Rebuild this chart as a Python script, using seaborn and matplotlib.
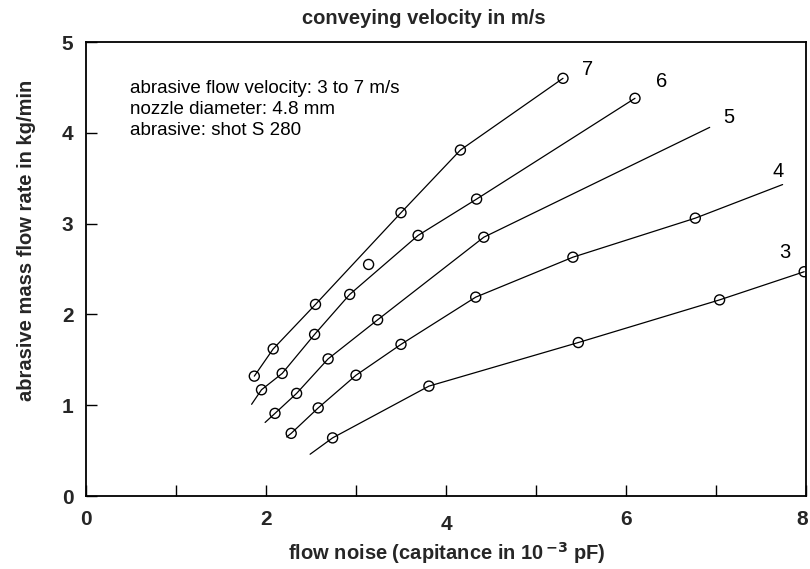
import numpy as np
import pandas as pd
import matplotlib
matplotlib.use("Agg")
import matplotlib.pyplot as plt
from matplotlib.transforms import ScaledTranslation
import seaborn as sns

# Conveying velocity of each curve (m/s)
velocities = [7, 6, 5, 4, 3]

# Fitted curve vertices; measured points are flagged with 1
x_v7 = [1.87, 2.08, 2.55, 3.50, 4.16, 5.30]
y_v7 = [1.32, 1.62, 2.11, 3.12, 3.81, 4.60]
m_v7 = [1, 1, 1, 1, 1, 1]

x_v6 = [1.84, 1.95, 2.18, 2.54, 2.93, 3.69, 4.34, 6.10]
y_v6 = [1.01, 1.17, 1.35, 1.78, 2.22, 2.87, 3.27, 4.38]
m_v6 = [0, 1, 1, 1, 1, 1, 1, 1]

x_v5 = [1.99, 2.10, 2.34, 2.69, 3.24, 4.42, 6.93]
y_v5 = [0.81, 0.91, 1.13, 1.51, 1.94, 2.85, 4.06]
m_v5 = [0, 1, 1, 1, 1, 1, 0]

x_v4 = [2.23, 2.28, 2.58, 3.00, 3.50, 4.33, 5.41, 6.77, 7.74]
y_v4 = [0.65, 0.69, 0.97, 1.33, 1.67, 2.19, 2.63, 3.06, 3.43]
m_v4 = [0, 1, 1, 1, 1, 1, 1, 1, 0]

x_v3 = [2.49, 2.74, 3.81, 5.47, 7.04, 7.98]
y_v3 = [0.46, 0.64, 1.21, 1.69, 2.16, 2.47]
m_v3 = [0, 1, 1, 1, 1, 1]

# Single measurement not lying on a curve
x_single = [3.14]
y_single = [2.55]

# Curve label positions
label_x = [5.57, 6.40, 7.14, 7.69, 7.76]
label_y = [4.70, 4.56, 4.17, 3.57, 2.68]

x_ticks = [0, 1, 2, 3, 4, 5, 6, 7, 8]
x_ticklabels = ["0", "", "2", "", "4", "", "6", "", "8"]
y_ticks = [0, 1, 2, 3, 4, 5]

info_lines = ["abrasive flow velocity: 3 to 7 m/s",
              "nozzle diameter: 4.8 mm",
              "abrasive: shot S 280"]

series = {7: (x_v7, y_v7, m_v7), 6: (x_v6, y_v6, m_v6), 5: (x_v5, y_v5, m_v5),
          4: (x_v4, y_v4, m_v4), 3: (x_v3, y_v3, m_v3)}

rows = []
for v in velocities:
    xs, ys, ms = series[v]
    for i, (a, b, m) in enumerate(zip(xs, ys, ms)):
        rows.append({"velocity": v, "order": i, "x": a, "y": b, "measured": m})
df = pd.DataFrame(rows)
single = pd.DataFrame({"x": x_single, "y": y_single})
measured = pd.concat([df[df["measured"] == 1][["x", "y"]], single], ignore_index=True)

sns.set_theme(style="white")
plt.rcParams["font.family"] = ["Liberation Sans", "DejaVu Sans"]

fig = plt.figure(figsize=(8.1, 5.69), dpi=100)
ax = fig.add_axes([86 / 810, 73 / 569, 720 / 810, 454 / 569])

sns.lineplot(data=df, x="x", y="y", hue="velocity", units="velocity",
             estimator=None, sort=False, palette=["black"] * len(velocities),
             linewidth=0.9, legend=False, ax=ax)
sns.scatterplot(data=measured, x="x", y="y", s=52, marker="o",
                color="black", linewidth=1.0, legend=False, ax=ax, zorder=3)
pts = ax.collections[-1]
pts.set_facecolor("none")
pts.set_edgecolor("black")

for v, lx, ly in zip(velocities, label_x, label_y):
    ax.text(lx, ly, str(v), fontsize=14.5, ha="center", va="center", color="black")

for i, line in enumerate(info_lines):
    ax.text(0.49, 4.49 - i * 0.23, line, fontsize=13.5, ha="left", va="center",
            color="black")

ax.set_xlim(0, 8)
ax.set_ylim(0, 5)
ax.set_xticks(x_ticks)
ax.set_xticklabels(x_ticklabels)
ax.set_yticks(y_ticks)
ax.tick_params(axis="both", direction="in", length=8, width=1.0, color="black",
               labelsize=15, bottom=True, left=True)
ax.tick_params(axis="x", pad=10)
ax.tick_params(axis="y", pad=9)
for lab in ax.get_xticklabels() + ax.get_yticklabels():
    lab.set_fontweight("bold")
# the "4" label sits a little lower than its neighbours; "8" is nudged off the edge
xl = ax.get_xticklabels()
xl[4].set_transform(xl[4].get_transform() + ScaledTranslation(0, -5 / 100, fig.dpi_scale_trans))
xl[8].set_transform(xl[8].get_transform() + ScaledTranslation(-4 / 100, 0, fig.dpi_scale_trans))
for sp in ax.spines.values():
    sp.set_visible(True)
    sp.set_color("black")
    sp.set_linewidth(1.3)
ax.set_xlabel("")
ax.set_ylabel("")

fig.text(424 / 810, 1 - 19 / 569, "conveying velocity in m/s", fontsize=14.5,
         fontweight="bold", ha="center", va="center")
fig.text(447 / 810, 1 - 553 / 569, "flow noise (capitance in 10$^{\\,\\mathbf{-3}}$ pF)",
         fontsize=14.5, fontweight="bold", ha="center", va="center")
fig.text(27 / 810, 1 - 240 / 569, "abrasive mass flow rate in kg/min", fontsize=14.5,
         fontweight="bold", ha="center", va="center", rotation=90)

fig.savefig("out.png", dpi=100, facecolor="white")
